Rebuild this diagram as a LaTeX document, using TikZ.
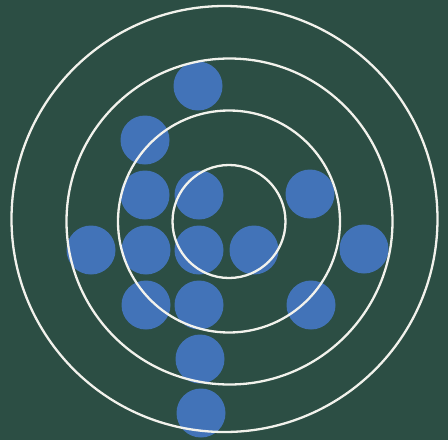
\documentclass[tikz,border=0pt]{standalone}
\usepackage{tikz}
\definecolor{board}{HTML}{2C4E44}
\definecolor{dotblue}{HTML}{4273B8}
\definecolor{ringwhite}{HTML}{F2F2EC}
\begin{document}
\begin{tikzpicture}[x=1pt,y=-1pt,
  dotstyle/.style={circle,fill=dotblue,draw=none,minimum size=49pt,inner sep=0pt},
  ringstyle/.style={draw=ringwhite,line width=2.3pt}]
\fill[board] (0,0) rectangle (448,440);
\useasboundingbox (0,0) rectangle (448,440);
% dots
\node[dotstyle] (d1) at (198,86) {};
\node[dotstyle] (d2) at (145,140) {};
\node[dotstyle] (d3) at (145,195) {};
\node[dotstyle] (d4) at (199,195) {};
\node[dotstyle] (d5) at (310,194) {};
\node[dotstyle] (d6) at (91,250) {};
\node[dotstyle] (d7) at (146,250) {};
\node[dotstyle] (d8) at (199,250) {};
\node[dotstyle] (d9) at (254,250) {};
\node[dotstyle] (d10) at (364,249) {};
\node[dotstyle] (d11) at (146,305) {};
\node[dotstyle] (d12) at (199,305) {};
\node[dotstyle] (d13) at (311,305) {};
\node[dotstyle] (d14) at (200,359) {};
\node[dotstyle] (d15) at (201,413) {};
% rings
\coordinate (c) at (229,221.5);
\draw[ringstyle] (c) circle[radius=56.5];
\draw[ringstyle] (c) circle[radius=111];
\draw[ringstyle] (229.5,221.5) circle[radius=163];
\draw[ringstyle] (224.5,219) circle[radius=213];
\end{tikzpicture}
\end{document}
